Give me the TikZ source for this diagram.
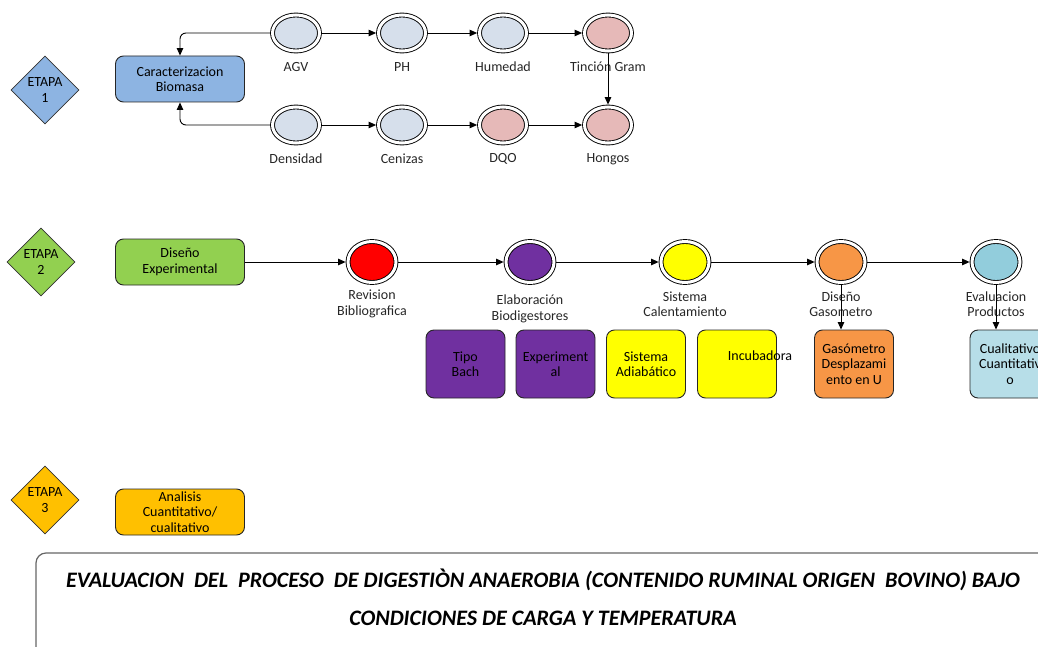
\documentclass[tikz,border=0pt]{standalone}
\usepackage{fontspec}
\setmainfont{Carlito}
\usetikzlibrary{shapes.geometric,arrows.meta}
\definecolor{cblue}{HTML}{8DB4E2}
\definecolor{clight}{HTML}{D6DFEB}
\definecolor{cpink}{HTML}{E6B9B8}
\definecolor{cgreen}{HTML}{92D050}
\definecolor{cpurple}{HTML}{7030A0}
\definecolor{cyellow}{HTML}{FFFF00}
\definecolor{corange}{HTML}{F79646}
\definecolor{cteal}{HTML}{92CDDC}
\definecolor{cteallight}{HTML}{B7DEE8}
\definecolor{cgold}{HTML}{FFC000}
\newcommand\lblfont{\fontsize{14}{15.5}\selectfont}
\newcommand\ttlfont{\fontsize{22.1}{26}\selectfont\bfseries\itshape}
\tikzset{
  ring/.style={ellipse, draw=black, line width=0.9pt, double=white, double distance=3pt, inner sep=0pt, outer sep=2.4pt},
  ringA/.style={ring, minimum width=47pt, minimum height=36pt},
  ringB/.style={ring, minimum width=48pt, minimum height=41pt},
  box/.style={draw=black!85, line width=0.9pt, rounded corners=8pt, align=center, font=\lblfont, inner sep=0pt},
  bigbox/.style={box, minimum width=129pt, minimum height=46pt},
  smallbox/.style={box, minimum width=79pt, minimum height=68pt},
  lab/.style={font=\lblfont, align=center, inner sep=0pt, text=black!85},
  etapa/.style={diamond, draw=black!80, line width=0.8pt, minimum width=68pt, minimum height=68pt, inner sep=0pt, align=center, font=\lblfont},
  arr/.style={-{Triangle[length=7.5pt,width=6.5pt]}, line width=0.9pt},
  frame/.style={draw=black!60, line width=1.2pt, rounded corners=10pt},
  ttl/.style={font=\ttlfont, inner sep=0pt}
}
\begin{document}
\begin{tikzpicture}[x=1pt,y=-1pt]
\useasboundingbox (0,0) rectangle (1038,647);

% ETAPA 1
\node[etapa, fill=cblue] (e1) at (45,90) {ETAPA\\1};
\node[bigbox, fill=cblue] (car) at (180,79) {Caracterizacion\\Biomasa};
\node[ringA, fill=clight] (agv) at (296,33) {};
\node[ringA, fill=clight] (ph) at (402,33) {};
\node[ringA, fill=clight] (hum) at (503,33) {};
\node[ringA, fill=cpink] (tin) at (608,33) {};
\node[ringA, fill=clight] (den) at (296,125) {};
\node[ringA, fill=clight] (cen) at (402,125) {};
\node[ringA, fill=cpink] (dqo) at (503,125) {};
\node[ringA, fill=cpink] (hon) at (608,125) {};
\node[lab] (lagv) at (296,67) {AGV};
\node[lab] (lph) at (402,67) {PH};
\node[lab] (lhum) at (503,67) {Humedad};
\node[lab] (ltin) at (608,67) {Tinción Gram};
\node[lab] (lden) at (296,159) {Densidad};
\node[lab] (lcen) at (402,159) {Cenizas};
\node[lab] (ldqo) at (503,159) {DQO};
\node[lab] (lhon) at (608,159) {Hongos};
\draw[arr, rounded corners=6pt] (agv.west) -| (car.north);
\draw[arr, rounded corners=6pt] (den.west) -| (car.south);
\draw[arr] (agv) -- (ph);
\draw[arr] (ph) -- (hum);
\draw[arr] (hum) -- (tin);
\draw[arr] (tin.south) -- (hon.north);
\draw[arr] (den) -- (cen);
\draw[arr] (cen) -- (dqo);
\draw[arr] (dqo) -- (hon);

% ETAPA 2
\node[etapa, fill=cgreen] (e2) at (41,262) {ETAPA\\2};
\node[bigbox, fill=cgreen] (dis) at (180,262) {Diseño\\Experimental};
\node[ringB, fill=red] (rev) at (372,262) {};
\node[ringB, fill=cpurple] (ela) at (530,262) {};
\node[ringB, fill=cyellow] (sis) at (685,262) {};
\node[ringB, fill=corange] (gas) at (841,262) {};
\node[ringB, fill=cteal] (eva) at (996,262) {};
\node[lab] (lrev) at (372,304) {Revision\\Bibliografica};
\node[lab] (lela) at (530,309) {Elaboración\\Biodigestores};
\node[lab] (lsis) at (685,304) {Sistema\\Calentamiento};
\node[lab] (lgas) at (841,304) {Diseño\\Gasometro};
\node[lab] (leva) at (996,304) {Evaluacion\\Productos};
\node[smallbox, fill=cpurple] (tipo) at (465.5,364) {Tipo\\Bach};
\node[smallbox, fill=cpurple] (exp) at (555.5,364) {Experiment\\al};
\node[smallbox, fill=cyellow] (adia) at (646,364) {Sistema\\Adiabático};
\node[smallbox, fill=cyellow] (inc) at (737,364) {};
\node[lab, text=black] (linc) at (760,356) {Incubadora};
\node[smallbox, fill=corange] (gbox) at (854,364) {Gasómetro\\Desplazami\\ento en U};
\node[smallbox, fill=cteallight, minimum width=80pt] (cbox) at (1010,364) {Cualitativo\\Cuantitativ\\o};
\draw[arr] (dis.east) -- (rev.west);
\draw[arr] (rev) -- (ela);
\draw[arr] (ela) -- (sis);
\draw[arr] (sis) -- (gas);
\draw[arr] (gas) -- (eva);
\draw[arr] (gas.south) -- (gas.south |- gbox.north);
\draw[arr] (eva.south) -- (eva.south |- cbox.north);

% ETAPA 3
\node[etapa, fill=cgold] (e3) at (45,500) {ETAPA\\3};
\node[bigbox, fill=cgold] (ana) at (180,512) {Analisis\\Cuantitativo/\\cualitativo};

% Title frame
\draw[frame] (36,670) -- (36,553) -- (1070,553);
\node[ttl] (t1) at (543,580) {EVALUACION\ \ DEL\ \ PROCESO\ \ DE DIGESTIÒN ANAEROBIA (CONTENIDO RUMINAL ORIGEN\ \ BOVINO) BAJO};
\node[ttl] (t2) at (543,618) {CONDICIONES DE CARGA Y TEMPERATURA};
\end{tikzpicture}
\end{document}
